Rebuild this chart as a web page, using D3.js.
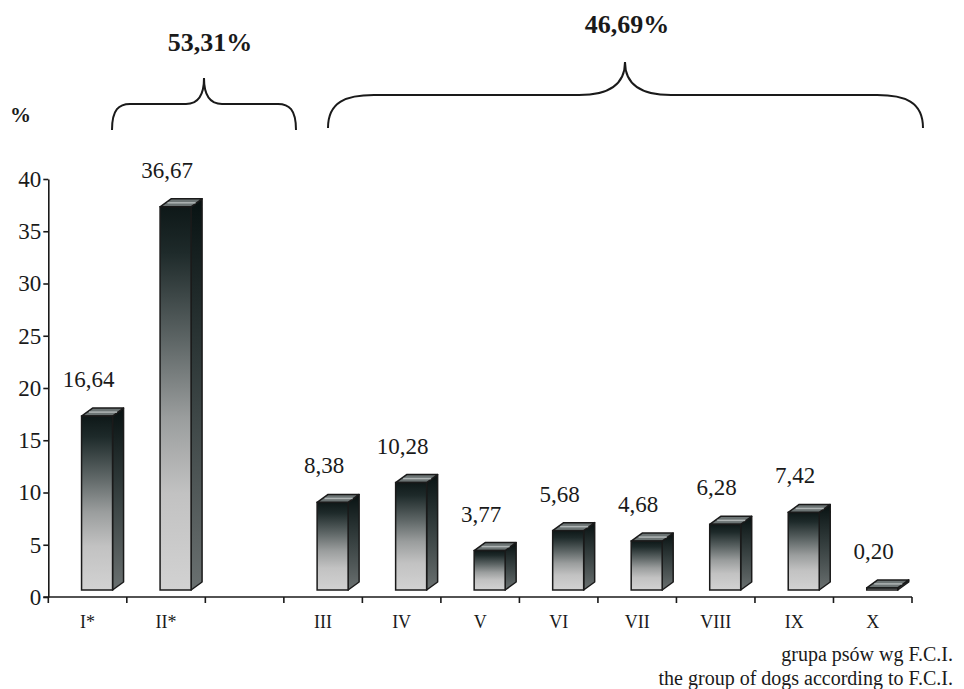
<!DOCTYPE html>
<html>
<head>
<meta charset="utf-8">
<script src="https://cdn.jsdelivr.net/npm/d3@7"></script>
<style>
  body { margin: 0; background: #fff; }
  .axis path, .axis line { stroke: #1a1a1a; stroke-width: 1.6; }
</style>
</head>
<body>
<div id="chart"></div>
<script>

// data
const categories = ["I*", "II*", "", "III", "IV", "V", "VI", "VII", "VIII", "IX", "X"];
const values = [16.64, 36.67, null, 8.38, 10.28, 3.77, 5.68, 4.68, 6.28, 7.42, 0.20];
const yTicks = [0, 5, 10, 15, 20, 25, 30, 35, 40];
const groupLabels = ["53,31%", "46,69%"];
const xTitle = ["grupa psów wg F.C.I.", "the group of dogs according to F.C.I."];

const W = 964, H = 689;
const left = 48.3, right = 912, y0 = 597, yTop = 179;
const serif = "'Liberation Serif', 'Times New Roman', Times, serif";

// bar geometry
const floorOff = 7, depthX = 11, depthY = 8, frontW = 31, labelGap = 29;

let svg = d3.select("#chart").append("svg")
    .attr("width", W)
    .attr("height", H)
    .attr("font-family", serif);

let x = d3.scaleBand()
    .domain(categories)
    .range([left, right])
    .padding(0);

let y = d3.scaleLinear()
    .domain([0, 40])
    .range([y0, yTop]);

let fmt = d3.formatLocale({decimal: ",", thousands: " ", grouping: [3], currency: ["", ""]}).format(".2f");

// gradients
let defs = svg.append("defs");
let gFront = defs.append("linearGradient").attr("id", "gFront")
    .attr("x1", 0).attr("y1", 0).attr("x2", 0).attr("y2", 1);
[[0, "#0e1818"], [0.12, "#1e2a2a"], [0.35, "#5e6666"], [0.55, "#9a9d9d"], [0.75, "#c2c2c2"], [1, "#d2d2d2"]]
    .forEach(s => gFront.append("stop").attr("offset", s[0]).attr("stop-color", s[1]));
let gSide = defs.append("linearGradient").attr("id", "gSide")
    .attr("x1", 0).attr("y1", 0).attr("x2", 0).attr("y2", 1);
[[0, "#081212"], [0.4, "#2e3838"], [1, "#6a7070"]]
    .forEach(s => gSide.append("stop").attr("offset", s[0]).attr("stop-color", s[1]));

// y axis
let yAxis = d3.axisLeft(y).tickValues(yTicks).tickSize(5).tickSizeOuter(0).tickPadding(2);
svg.append("g")
    .attr("class", "axis")
    .attr("transform", "translate(" + left + ",0)")
    .call(yAxis)
    .attr("font-family", serif)
    .attr("font-size", 23)
    .selectAll("text")
    .attr("fill", "#1a1a1a");

// x axis line + boundary ticks
let xg = svg.append("g").attr("class", "axis");
xg.append("line")
    .attr("x1", left - 5).attr("x2", right)
    .attr("y1", y0).attr("y2", y0);
let edges = categories.map(c => x(c)).concat([right]);
xg.selectAll("line.edge")
    .data(edges)
    .enter()
    .append("line")
    .attr("class", "edge")
    .attr("x1", d => d).attr("x2", d => d)
    .attr("y1", y0).attr("y2", y0 + 6);
xg.selectAll("text")
    .data(categories)
    .enter()
    .append("text")
    .attr("x", d => x(d) + x.bandwidth() / 2)
    .attr("y", 628)
    .attr("text-anchor", "middle")
    .attr("font-size", 18)
    .attr("fill", "#1a1a1a")
    .text(d => d);

// bars (3d boxes)
let barData = categories.map((c, i) => ({cat: c, v: values[i]})).filter(d => d.v != null);

let bars = svg.selectAll("g.bar")
    .data(barData)
    .enter()
    .append("g")
    .attr("class", "bar");

let fx = d => x(d.cat) + x.bandwidth() / 2 - 6;
let ft = d => y(d.v) - floorOff;
let fb = y(0) - floorOff;

bars.append("polygon")
    .attr("points", d => {
        let a = fx(d) + frontW, t = ft(d);
        return [[a, t], [a + depthX, t - depthY], [a + depthX, fb - depthY], [a, fb]].join(" ");
    })
    .attr("fill", "url(#gSide)")
    .attr("stroke", "#1a1a1a")
    .attr("stroke-width", 1.5)
    .attr("stroke-linejoin", "round");

bars.append("polygon")
    .attr("points", d => {
        let a = fx(d), t = ft(d);
        return [[a, t], [a + depthX, t - depthY], [a + frontW + depthX, t - depthY], [a + frontW, t]].join(" ");
    })
    .attr("fill", "#6c7474")
    .attr("stroke", "#1a1a1a")
    .attr("stroke-width", 1.5)
    .attr("stroke-linejoin", "round");

bars.append("line")
    .attr("x1", d => fx(d) + depthX / 2 + 2)
    .attr("x2", d => fx(d) + frontW + depthX / 2 - 1)
    .attr("y1", d => ft(d) - depthY / 2)
    .attr("y2", d => ft(d) - depthY / 2)
    .attr("stroke", "#aeb4b4")
    .attr("stroke-width", 1.5);

bars.append("rect")
    .attr("x", fx)
    .attr("y", ft)
    .attr("width", frontW)
    .attr("height", d => Math.max(1, fb - ft(d)))
    .attr("fill", "url(#gFront)")
    .attr("stroke", "#1a1a1a")
    .attr("stroke-width", 1.5);

// value labels
svg.selectAll("text.bar-label")
    .data(barData)
    .enter()
    .append("text")
    .attr("class", "bar-label")
    .attr("x", d => x(d.cat) + x.bandwidth() / 2 + 1)
    .attr("y", d => ft(d) - labelGap)
    .attr("text-anchor", "middle")
    .attr("font-size", 23)
    .attr("fill", "#1a1a1a")
    .text(d => fmt(d.v));

// "%" unit
svg.append("text")
    .attr("x", 10)
    .attr("y", 122)
    .attr("font-size", 21)
    .attr("font-weight", "bold")
    .attr("fill", "#1a1a1a")
    .text("%");

// braces over the two groups
let brace = function(x1, x2, tipX, yEnd, yMid, yTip, r) {
    let p = d3.path();
    p.moveTo(x1, yEnd);
    p.bezierCurveTo(x1, yMid + (yEnd - yMid) * 0.2, x1 + r * 0.4, yMid, x1 + r, yMid);
    p.lineTo(tipX - r, yMid);
    p.bezierCurveTo(tipX - r * 0.3, yMid, tipX, yMid - (yMid - yTip) * 0.35, tipX, yTip);
    p.bezierCurveTo(tipX, yMid - (yMid - yTip) * 0.35, tipX + r * 0.3, yMid, tipX + r, yMid);
    p.lineTo(x2 - r, yMid);
    p.bezierCurveTo(x2 - r * 0.4, yMid, x2, yMid + (yEnd - yMid) * 0.2, x2, yEnd);
    return p.toString();
};

let braces = [
    {x1: 112, x2: 296, tip: 204, yEnd: 130, yMid: 104, yTip: 78, r: 18, lx: 210, ly: 51},
    {x1: 328, x2: 923, tip: 625, yEnd: 128, yMid: 95, yTip: 62, r: 46, lx: 627, ly: 33}
];

svg.selectAll("path.brace")
    .data(braces)
    .enter()
    .append("path")
    .attr("class", "brace")
    .attr("d", d => brace(d.x1, d.x2, d.tip, d.yEnd, d.yMid, d.yTip, d.r))
    .attr("fill", "none")
    .attr("stroke", "#1a1a1a")
    .attr("stroke-width", 2);

svg.selectAll("text.group")
    .data(braces)
    .enter()
    .append("text")
    .attr("class", "group")
    .attr("x", d => d.lx)
    .attr("y", d => d.ly)
    .attr("text-anchor", "middle")
    .attr("font-size", 26)
    .attr("font-weight", "bold")
    .attr("fill", "#1a1a1a")
    .text((d, i) => groupLabels[i]);

// axis title
svg.selectAll("text.xtitle")
    .data(xTitle)
    .enter()
    .append("text")
    .attr("class", "xtitle")
    .attr("x", 953)
    .attr("y", (d, i) => 661 + i * 24)
    .attr("text-anchor", "end")
    .attr("font-size", 20)
    .attr("fill", "#1a1a1a")
    .text(d => d);

</script>
</body>
</html>
